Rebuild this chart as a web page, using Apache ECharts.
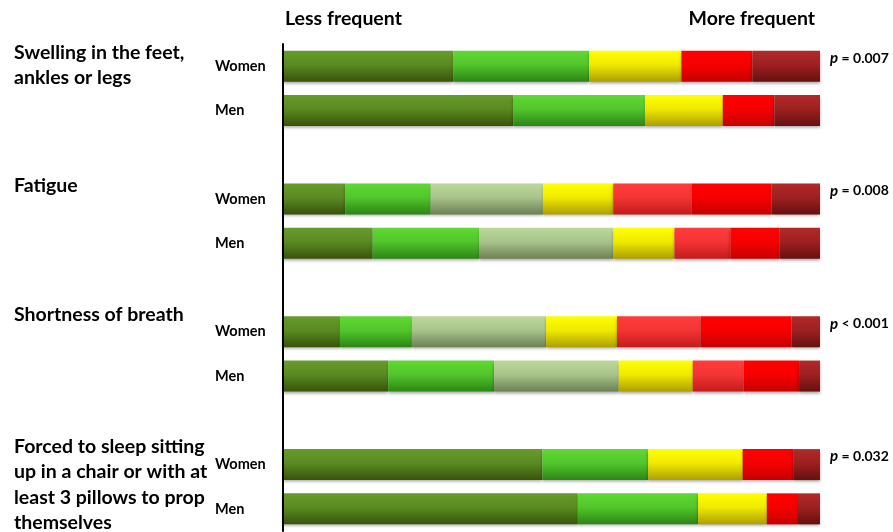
<!DOCTYPE html>
<html>
<head>
<meta charset="utf-8">
<script src="https://cdn.jsdelivr.net/npm/echarts@6/dist/echarts.min.js"></script>
<style>
html,body{margin:0;padding:0;background:#fff;}
#chart{width:893px;height:532px;}
</style>
</head>
<body>
<div id="chart"></div>
<script>
// Rows (top to bottom); empty strings are spacer rows between symptom groups
const rowLabels = ['Women','Men','','Women','Men','','Women','Men','','Women','Men'];
// Percentage share of each response category (less frequent -> more frequent)
const darkGreen  = [31.7, 42.9, null, 11.6, 16.7, null, 10.6, 19.6, null, 48.3, 54.9];
const green      = [25.3, 24.5, null, 15.9, 19.8, null, 13.4, 19.7, null, 19.7, 22.4];
const lightGreen = [0,    0,    null, 20.9, 25.0, null, 25.0, 23.2, null, 0,    0];
const yellow     = [17.2, 14.5, null, 13.1, 11.4, null, 13.2, 13.8, null, 17.6, 12.8];
const lightRed   = [0,    0,    null, 14.6, 10.4, null, 15.6,  9.5, null, 0,    0];
const red        = [13.2,  9.6, null, 14.9,  9.2, null, 16.9, 10.3, null,  9.4,  5.8];
const darkRed    = [12.6,  8.5, null,  9.0,  7.5, null,  5.3,  3.9, null,  5.0,  4.1];
const pValues    = ['= 0.007', null, null, '= 0.008', null, null, '< 0.001', null, null, '= 0.032', null];
const groupTitles = [
  'Swelling in the feet,\nankles or legs',
  'Fatigue',
  'Shortness of breath',
  'Forced to sleep sitting\nup in a chair or with at\nleast 3 pillows to prop\nthemselves'
];
const headerLeft = 'Less frequent';
const headerRight = 'More frequent';

const FONT = 'Lato, "Open Sans", sans-serif';

function grad(top, mid, bottom) {
  return new echarts.graphic.LinearGradient(0, 0, 0, 1, [
    {offset: 0, color: top},
    {offset: 0.45, color: mid},
    {offset: 1, color: bottom}
  ]);
}

const seriesDefs = [
  {name: 'darkGreen',  data: darkGreen,  color: grad('#679b2b', '#5a8a22', '#38540a')},
  {name: 'green',      data: green,      color: grad('#5fd833', '#52c62b', '#2c8515')},
  {name: 'lightGreen', data: lightGreen, color: grad('#bbd89b', '#a9c48a', '#6c8055')},
  {name: 'yellow',     data: yellow,     color: grad('#ffff00', '#f0ea00', '#ad9f00')},
  {name: 'lightRed',   data: lightRed,   color: grad('#ff3c3c', '#f53434', '#c21c1c')},
  {name: 'red',        data: red,        color: grad('#ff0000', '#f70000', '#c60000')},
  {name: 'darkRed',    data: darkRed,    color: grad('#b22a2a', '#9e2020', '#661010')}
];

const series = seriesDefs.map((d, idx) => {
  const s = {
    name: d.name,
    type: 'bar',
    stack: 'total',
    barWidth: 31,
    data: d.data,
    itemStyle: {
      color: d.color,
      shadowColor: 'rgba(0,0,0,0.35)',
      shadowBlur: 3,
      shadowOffsetY: 2
    },
    emphasis: {disabled: true},
    animation: false
  };
  if (idx === seriesDefs.length - 1) {
    s.label = {
      show: true,
      position: 'right',
      distance: 10,
      offset: [0, -8],
      formatter: p => pValues[p.dataIndex] ? '{i|p} ' + pValues[p.dataIndex] : '',
      color: '#000',
      fontFamily: FONT,
      fontWeight: 'bold',
      fontSize: 14,
      rich: {
        i: {fontStyle: 'italic', fontWeight: 'bold', fontFamily: FONT, fontSize: 15, color: '#000'}
      }
    };
  }
  return s;
});

const chart = echarts.init(document.getElementById('chart'), null, {renderer: 'canvas'});
chart.setOption({
  backgroundColor: '#ffffff',
  animation: false,
  grid: {left: 283, right: 73, top: 44, bottom: 1},
  xAxis: {type: 'value', min: 0, max: 100, show: false},
  yAxis: {
    type: 'category',
    inverse: true,
    data: rowLabels,
    z: 5,
    axisLine: {show: true, lineStyle: {color: '#000', width: 2}},
    axisTick: {show: false},
    splitLine: {show: false},
    axisLabel: {
      align: 'left',
      margin: 68,
      padding: [6, 0, 0, 0],
      color: '#000',
      fontFamily: FONT,
      fontWeight: 'bold',
      fontSize: 14.5
    }
  },
  graphic: [
    {type: 'text', left: 285, top: 9, style: {text: headerLeft, font: 'bold 19.5px ' + FONT, fill: '#000'}},
    {type: 'text', right: 78, top: 9, style: {text: headerRight, font: 'bold 19.5px ' + FONT, fill: '#000'}},
    {type: 'text', left: 14, top: 40, style: {text: groupTitles[0], font: 'bold 19.5px ' + FONT, lineHeight: 25, fill: '#000'}},
    {type: 'text', left: 14, top: 173, style: {text: groupTitles[1], font: 'bold 19.5px ' + FONT, lineHeight: 25, fill: '#000'}},
    {type: 'text', left: 14, top: 302, style: {text: groupTitles[2], font: 'bold 19.5px ' + FONT, lineHeight: 25, fill: '#000'}},
    {type: 'text', left: 14, top: 434, style: {text: groupTitles[3], font: 'bold 19.5px ' + FONT, lineHeight: 25.3, fill: '#000'}}
  ],
  series: series
});
</script>
</body>
</html>
